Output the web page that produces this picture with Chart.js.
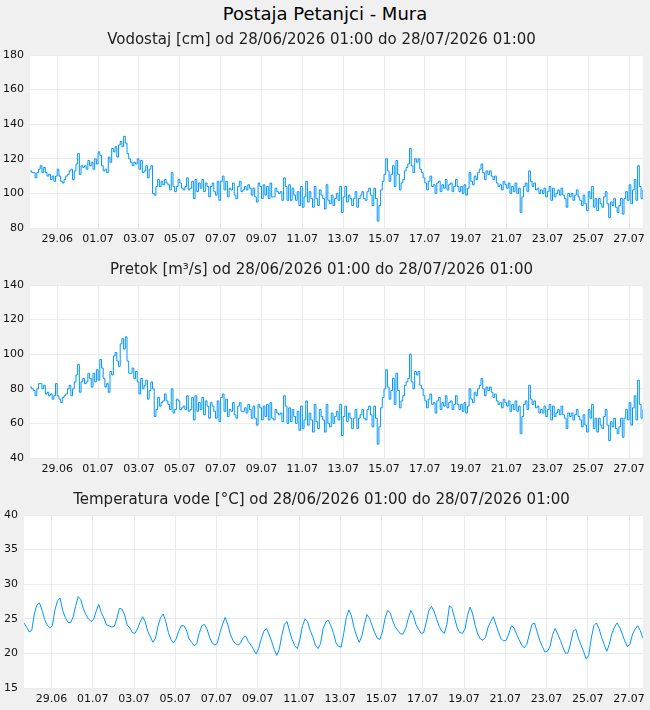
<!DOCTYPE html>
<html>
<head>
<meta charset="utf-8">
<title>Postaja Petanjci - Mura</title>
<script src="https://cdn.jsdelivr.net/npm/chart.js@4.4.1/dist/chart.umd.min.js"></script>
<style>
    html, body { margin: 0; padding: 0; background: #f0f0f0; width: 650px; height: 710px; overflow: hidden; font-family: 'DejaVu Sans', sans-serif; }
    h1 { position: absolute; top: 0; left: 0; width: 650px; margin: 0; font-size: 18px; font-weight: normal; line-height: 27px; text-align: center; color: #000; }
    canvas { position: absolute; left: 0; }
</style>
</head>
<body>
<h1>Postaja Petanjci - Mura</h1>
<canvas id="chartVodostaj" width="650" height="230" style="top:25px"></canvas>
<canvas id="chartPretok" width="650" height="230" style="top:255px"></canvas>
<canvas id="chartTemperatura" width="650" height="230" style="top:485px"></canvas>
<script>
// 28/06/2026 01:00 - 28/07/2026 01:00, x = ure od začetka
var HOURS = 720;
var FIRST_TICK_HOUR = 32;
var TICK_STEP_HOURS = 48;
var dateLabels = ['29.06', '01.07', '03.07', '05.07', '07.07', '09.07', '11.07', '13.07',
                  '15.07', '17.07', '19.07', '21.07', '23.07', '25.07', '27.07'];

// Vodostaj [cm], vsaki 2 uri
var vodostaj = [
    113, 112, 112, 109, 112, 114, 116, 112, 115, 112, 110, 111,
    108, 110, 107, 110, 114, 110, 107, 106, 108, 110, 111, 113,
    114, 108, 113, 117, 123, 111, 116, 115, 116, 114, 119, 116,
    118, 114, 120, 117, 124, 122, 116, 113, 114, 112, 121, 118,
    126, 124, 127, 121, 128, 130, 127, 133, 129, 123, 120, 118,
    116, 118, 117, 120, 114, 119, 112, 113, 116, 109, 114, 116,
    100, 99, 104, 108, 104, 107, 105, 108, 106, 105, 102, 112,
    104, 101, 104, 108, 106, 103, 102, 104, 109, 102, 103, 107,
    97, 108, 101, 106, 103, 108, 101, 106, 104, 98, 104, 106,
    101, 99, 107, 96, 107, 110, 102, 107, 98, 103, 102, 106,
    99, 97, 104, 107, 101, 102, 104, 102, 105, 103, 99, 103,
    98, 95, 106, 104, 97, 105, 99, 104, 97, 106, 98, 98,
    103, 101, 100, 101, 96, 109, 104, 96, 105, 96, 103, 99,
    96, 101, 93, 104, 92, 98, 107, 95, 101, 97, 92, 104,
    97, 93, 102, 99, 97, 91, 105, 96, 94, 99, 93, 97,
    100, 96, 104, 89, 98, 104, 95, 99, 97, 93, 97, 101,
    92, 97, 99, 101, 97, 96, 101, 103, 99, 93, 103, 97,
    84, 93, 102, 107, 111, 120, 113, 107, 111, 116, 104, 119,
    111, 102, 106, 108, 113, 115, 117, 126, 116, 112, 120, 118,
    120, 114, 112, 109, 106, 102, 107, 110, 104, 105, 100, 106,
    107, 101, 105, 103, 108, 102, 105, 106, 101, 104, 108, 104,
    101, 104, 100, 105, 99, 103, 112, 107, 105, 110, 108, 112,
    114, 117, 112, 108, 113, 111, 113, 110, 108, 110, 106, 104,
    105, 102, 107, 105, 103, 106, 100, 104, 101, 106, 100, 103,
    89, 98, 104, 106, 101, 113, 107, 104, 106, 102, 103, 100,
    102, 100, 103, 98, 101, 104, 96, 103, 98, 100, 102, 99,
    103, 99, 97, 92, 100, 98, 100, 96, 99, 102, 98, 96,
    93, 99, 94, 90, 101, 97, 104, 92, 97, 90, 97, 94,
    92, 98, 101, 94, 86, 95, 93, 97, 92, 89, 93, 97,
    88, 97, 101, 96, 105, 94, 102, 108, 96, 116, 104, 97,
    102
];

// Pretok [m³/s], vsaki 2 uri
var pretok = [
    81, 80, 79, 76, 80, 83, 83, 80, 82, 77, 78, 76,
    77, 74, 76, 83, 76, 74, 72, 75, 76, 77, 80, 82,
    76, 80, 84, 88, 94, 78, 84, 86, 83, 84, 89, 86,
    81, 89, 84, 91, 85, 97, 92, 86, 81, 83, 78, 90,
    88, 99, 101, 96, 93, 106, 109, 103, 110, 96, 89, 89,
    92, 86, 90, 84, 77, 86, 80, 82, 85, 74, 79, 84,
    80, 64, 68, 75, 70, 72, 73, 77, 73, 71, 68, 80,
    66, 68, 74, 73, 68, 69, 70, 68, 76, 67, 68, 75,
    62, 76, 67, 72, 68, 75, 65, 73, 70, 63, 72, 70,
    67, 63, 73, 61, 75, 77, 67, 74, 64, 68, 67, 72,
    65, 63, 70, 72, 67, 67, 69, 66, 71, 68, 63, 70,
    63, 59, 71, 69, 62, 70, 64, 71, 62, 72, 63, 62,
    68, 66, 65, 66, 61, 76, 70, 60, 69, 61, 68, 64,
    60, 67, 56, 70, 57, 62, 73, 59, 66, 62, 55, 71,
    61, 57, 68, 64, 62, 55, 71, 60, 58, 66, 60, 64,
    67, 62, 71, 53, 64, 70, 61, 66, 63, 57, 63, 68,
    57, 63, 65, 68, 63, 62, 68, 70, 65, 58, 70, 63,
    48, 58, 69, 75, 80, 91, 81, 74, 79, 86, 71, 89,
    79, 69, 73, 76, 82, 84, 86, 100, 84, 80, 90, 88,
    90, 82, 80, 76, 73, 69, 74, 77, 71, 72, 66, 73,
    75, 68, 72, 70, 76, 69, 72, 73, 68, 71, 76, 71,
    68, 71, 67, 72, 66, 70, 80, 74, 72, 78, 76, 80,
    82, 86, 80, 76, 81, 79, 81, 78, 75, 77, 73, 71,
    72, 69, 74, 72, 70, 73, 67, 71, 68, 73, 67, 70,
    54, 64, 71, 73, 68, 82, 74, 71, 73, 69, 70, 66,
    68, 66, 70, 64, 68, 71, 62, 70, 64, 66, 68, 65,
    70, 65, 63, 57, 66, 64, 66, 62, 65, 68, 64, 62,
    58, 65, 59, 55, 68, 63, 71, 57, 63, 55, 63, 59,
    57, 64, 68, 59, 50, 61, 58, 63, 57, 54, 58, 63,
    52, 63, 68, 62, 72, 59, 69, 76, 62, 85, 71, 63,
    68
];

// Temperatura vode [°C], vsake 3 ure
var temperatura = [
    24.4, 23.8, 23.1, 23.3, 25.7, 27.0, 27.3, 26.2,
    24.9, 24.1, 23.7, 24.0, 26.3, 27.6, 28.0, 26.2,
    25.2, 24.5, 24.4, 25.2, 26.8, 28.2, 27.8, 26.5,
    25.6, 25.0, 24.6, 24.9, 26.1, 27.1, 25.9, 25.1,
    24.1, 24.0, 23.8, 23.9, 25.0, 26.5, 26.4, 25.6,
    24.1, 23.7, 23.0, 22.9, 23.5, 24.5, 25.3, 24.6,
    23.2, 22.4, 21.6, 22.2, 24.0, 25.2, 25.7, 24.6,
    23.0, 22.0, 21.5, 22.1, 23.2, 24.0, 24.0, 23.4,
    22.1, 21.6, 21.1, 21.4, 23.0, 24.0, 24.2, 23.5,
    22.3, 21.5, 21.2, 21.5, 23.0, 24.2, 25.2, 24.2,
    22.8, 21.9, 21.4, 21.2, 21.5, 22.3, 22.5, 21.7,
    21.2, 20.6, 19.9, 20.7, 22.1, 23.2, 23.6, 22.8,
    21.8, 20.6, 19.7, 20.6, 22.6, 24.2, 24.6, 23.2,
    22.0, 21.1, 20.7, 22.0, 24.0, 25.0, 24.6, 23.3,
    22.4, 21.2, 20.7, 21.4, 23.6, 24.5, 24.8, 24.0,
    23.0, 21.5, 21.0, 20.9, 22.9, 25.2, 26.3, 25.4,
    23.7, 22.5, 21.6, 22.5, 24.2, 25.6, 25.1, 24.0,
    23.0, 22.2, 22.0, 23.1, 25.0, 26.2, 25.9, 24.7,
    23.8, 23.3, 22.8, 22.8, 23.6, 25.0, 26.2, 25.5,
    24.2, 23.5, 22.9, 23.0, 24.5, 26.2, 26.8, 26.1,
    25.0, 23.9, 23.2, 22.9, 24.2, 26.9, 26.5, 25.1,
    23.7, 23.0, 22.9, 23.5, 25.5, 26.7, 25.7, 24.0,
    22.8, 22.1, 21.9, 22.3, 23.8, 24.6, 25.3, 24.2,
    23.1, 22.1, 21.8, 21.9, 22.8, 24.0, 23.7, 22.8,
    22.0, 21.2, 20.8, 21.3, 22.8, 24.2, 24.4, 23.1,
    21.9, 21.0, 20.2, 20.3, 21.0, 22.7, 23.6, 22.8,
    21.9, 20.9, 20.0, 20.1, 21.5, 23.2, 23.5, 22.2,
    21.2, 20.3, 19.2, 19.7, 22.2, 24.0, 24.4, 23.6,
    22.3, 21.3, 20.3, 21.3, 22.9, 23.8, 24.4, 23.8,
    22.8, 21.8, 21.0, 21.3, 22.8, 23.5, 24.0, 23.3,
    22.2
];

Chart.defaults.font.family = "'DejaVu Sans', sans-serif";
Chart.defaults.color = '#111111';

var gridColor = '#ebebeb';
var lineColor = '#0096ff';

// bela podlaga za risalno površino
var plotBackground = {
    id: 'plotBackground',
    beforeDraw: function(chart) {
        var a = chart.chartArea;
        var ctx = chart.ctx;
        ctx.save();
        ctx.fillStyle = '#ffffff';
        ctx.fillRect(a.left, a.top, a.right - a.left, a.bottom - a.top);
        ctx.restore();
    }
};

function toPoints(values) {
    var step = HOURS / (values.length - 1);
    return values.map(function(v, i) { return { x: i * step, y: v }; });
}

function makeChart(id, title, values, yMin, yMax, yStep, yWidth, stepped) {
    var canvas = document.getElementById(id);
    return new Chart(canvas.getContext('2d'), {
        type: 'line',
        data: {
            datasets: [{
                data: toPoints(values),
                borderColor: lineColor,
                borderWidth: 1,
                pointRadius: 0,
                stepped: stepped,
                tension: 0,
                fill: false
            }]
        },
        options: {
            responsive: false,
            animation: false,
            events: [],
            layout: { padding: { left: 0, right: 7, top: 0, bottom: 0 } },
            plugins: {
                legend: { display: false },
                tooltip: { enabled: false },
                title: {
                    display: true,
                    text: title,
                    color: '#222222',
                    font: { size: 15, weight: 'normal' },
                    padding: { top: 6, bottom: 6 }
                }
            },
            scales: {
                x: {
                    type: 'linear',
                    min: 0,
                    max: HOURS,
                    afterBuildTicks: function(scale) {
                        scale.ticks = dateLabels.map(function(l, i) {
                            return { value: FIRST_TICK_HOUR + i * TICK_STEP_HOURS };
                        });
                    },
                    afterFit: function(scale) { scale.height = 27; },
                    grid: { color: gridColor, drawTicks: false },
                    border: { display: false },
                    ticks: {
                        autoSkip: false,
                        maxRotation: 0,
                        padding: 5,
                        font: { size: 11 },
                        callback: function(value, index) { return dateLabels[index]; }
                    }
                },
                y: {
                    min: yMin,
                    max: yMax,
                    afterFit: function(scale) { scale.width = yWidth; },
                    grid: { color: gridColor, drawTicks: false },
                    border: { display: false },
                    ticks: { stepSize: yStep, padding: 6, font: { size: 11 } }
                }
            }
        },
        plugins: [plotBackground]
    });
}

makeChart('chartVodostaj', 'Vodostaj [cm] od 28/06/2026 01:00 do 28/07/2026 01:00',
          vodostaj, 80, 180, 20, 30, true);
makeChart('chartPretok', 'Pretok [m³/s] od 28/06/2026 01:00 do 28/07/2026 01:00',
          pretok, 40, 140, 20, 30, true);
makeChart('chartTemperatura', 'Temperatura vode [°C] od 28/06/2026 01:00 do 28/07/2026 01:00',
          temperatura, 15, 40, 5, 24, false);
</script>
</body>
</html>
